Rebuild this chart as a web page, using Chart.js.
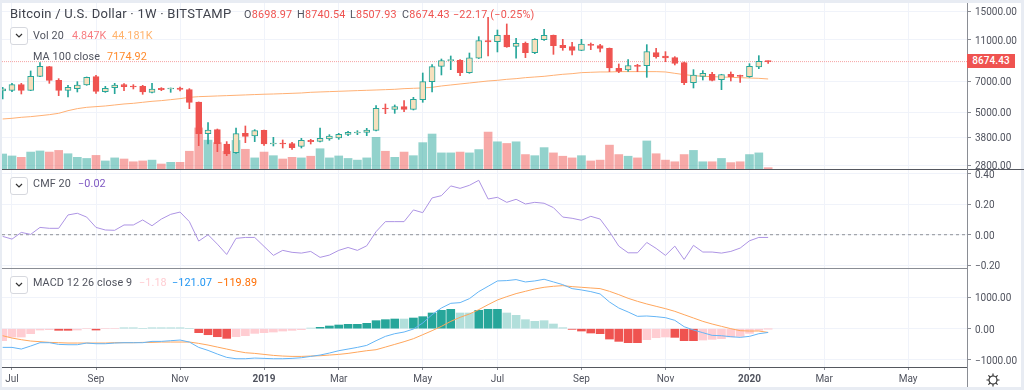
<!DOCTYPE html>
<html>
<head>
<meta charset="utf-8">
<title>Bitcoin / U.S. Dollar</title>
<script src="https://cdn.jsdelivr.net/npm/chart.js@4/dist/chart.umd.min.js"></script>
<style>
  html, body { margin: 0; padding: 0; background: #e8ecf3; }
  #page { position: relative; width: 1024px; height: 390px; overflow: hidden; background: #e8ecf3; font-family: Roboto, sans-serif; }
  #white { position: absolute; left: 2px; top: 3px; width: 1019px; height: 384px; background: #fff; }
  canvas { position: absolute; left: 0; }
  .rule { position: absolute; background: #55585f; }
  .txt { position: absolute; white-space: nowrap; font-size: 10.8px; letter-spacing: .1px; line-height: 14px; color: #50535e; }
  .ohlc { top: 8px; font-size: 10.8px; letter-spacing: .2px; }
  .btn { position: absolute; left: 10px; width: 16px; height: 16px; border: 1px solid #d6d8de; border-radius: 3px; background: #fff; }
  .btn svg { position: absolute; left: 4px; top: 5px; }
  .up { color: #ef5350; }
</style>
</head>
<body>
<div id="page">
  <div id="white"></div>
  <canvas id="pricePane" width="1024" height="186" style="top:-7px"></canvas>
  <canvas id="cmfPane" width="1024" height="118" style="top:160px"></canvas>
  <canvas id="macdPane" width="1024" height="131" style="top:259px"></canvas>

  <div class="rule" style="left:2px;top:169px;width:1022px;height:1px"></div>
  <div class="rule" style="left:2px;top:268px;width:965px;height:1px;background:#8a8d94"></div>
  <div class="rule" style="left:2px;top:367px;width:965px;height:1px"></div>
  <div class="rule" style="left:967px;top:3px;width:1px;height:384px;background:#8a8d94"></div>

  <div class="txt" style="left:10px;top:7px;font-size:13px;letter-spacing:.24px;color:#3f424c">Bitcoin / U.S. Dollar · 1W · BITSTAMP</div>
  <div class="txt ohlc" style="left:244px">O<span class="up">8698.97</span></div>
  <div class="txt ohlc" style="left:297px">H<span class="up">8740.54</span></div>
  <div class="txt ohlc" style="left:350px">L<span class="up">8507.93</span></div>
  <div class="txt ohlc" style="left:402px">C<span class="up">8674.43</span></div>
  <div class="txt ohlc up" style="left:453px">−22.17 (−0.25%)</div>

  <div class="btn" style="top:27px"><svg width="8" height="6"><path d="M1 1l3 3 3-3" fill="none" stroke="#333" stroke-width="1.2"/></svg></div>
  <div class="txt" style="left:33px;top:29px">Vol 20</div>
  <div class="txt" style="left:72px;top:29px;color:#f77c80">4.847K</div>
  <div class="txt" style="left:112px;top:29px;color:#ffb26b">44.181K</div>
  <div class="txt" style="left:33px;top:50px">MA 100 close</div>
  <div class="txt" style="left:107px;top:50px;color:#ff8a2b">7174.92</div>

  <div class="btn" style="top:177px"><svg width="8" height="6"><path d="M1 1l3 3 3-3" fill="none" stroke="#333" stroke-width="1.2"/></svg></div>
  <div class="txt" style="left:33px;top:177px">CMF 20</div>
  <div class="txt" style="left:78px;top:177px;color:#7e57c2">−0.02</div>

  <div class="btn" style="top:276px"><svg width="8" height="6"><path d="M1 1l3 3 3-3" fill="none" stroke="#333" stroke-width="1.2"/></svg></div>
  <div class="txt" style="left:33px;top:276px">MACD 12 26 close 9</div>
  <div class="txt" style="left:139px;top:276px;color:#ffcdd2">−1.18</div>
  <div class="txt" style="left:172px;top:276px;color:#2196f3">−121.07</div>
  <div class="txt" style="left:217px;top:276px;color:#ff6d00">−119.89</div>

  <div class="txt" style="left:967px;top:54px;width:48px;height:14px;background:#ef5350;color:#fff;text-align:center;font-size:10px;font-weight:500">8674.43</div>

  <svg style="position:absolute;left:986px;top:373px" width="14" height="14" viewBox="0 0 14 14">
    <circle cx="7" cy="7" r="4" fill="none" stroke="#333" stroke-width="1.2"/>
    <path d="M7 0.5v2.5M7 11v2.5M0.5 7h2.5M11 7h2.5M2.4 2.4l1.8 1.8M9.8 9.8l1.8 1.8M2.4 11.6l1.8-1.8M9.8 4.2l1.8-1.8" stroke="#333" stroke-width="1.2"/>
  </svg>
</div>

<script>
// weekly candles, first one is the week before the Jul 2018 tick
const opens = [6293,6338,6745,6338,7387,8210,7071,6338,6456,6720,7360,6247,6527,6745,6647,6622,6202,6480,6433,6503,6385,5581,3948,4124,3526,3208,3962,3849,4094,3526,3565,3539,3437,3671,3631,3725,3765,3919,3976,4005,4094,5208,5151,5303,5151,5725,6970,8240,8766,8798,7690,8998,10908,10790,11600,10252,10594,9568,11027,11563,10366,10215,9815,10442,10328,10030,8060,7916,8270,8300,9568,9225,9060,8577,6892,7387,7552,7123,7552,7442,7360,8180,8698.97];
const highs = [6550,6843,6843,7832,8577,8240,7201,6696,6970,7333,7470,6622,6843,6818,6745,6696,6843,6527,6503,6574,6456,5581,4452,4153,3618,4200,4293,4124,4109,3792,3684,3591,3752,3711,4200,3905,3962,4050,4079,4185,5362,5460,5401,5663,5873,7661,8392,8927,9225,8862,9530,11394,14077,12255,13090,11190,10750,11150,12345,11600,11068,10710,11068,10632,10480,10067,8453,8862,8422,10442,10030,9673,9157,8640,7945,7860,7718,7552,7747,7497,8483,9258,8740.54];
const lows = [5767,6247,6090,6315,7360,6843,5981,5894,6225,6696,6135,6200,6113,6315,6433,6068,6158,6315,6202,6293,5187,3463,3526,3243,3104,3184,3578,3618,3475,3450,3375,3327,3375,3526,3604,3671,3711,3863,3905,3863,4065,4912,4930,5023,5113,5561,6225,7497,7945,7442,7633,8966,9225,9640,10141,8998,9060,9462,10947,9392,9815,9327,9780,9885,9640,7775,7690,7803,7775,7307,8998,8672,8362,6745,6503,7097,7020,6385,7020,6920,7307,8030,8507.93];
const closes = [6437,6745,6338,7387,8240,7071,6338,6550,6720,7307,6270,6480,6720,6598,6574,6225,6433,6385,6456,6410,5561,3948,4109,3539,3161,3948,3834,4079,3526,3565,3526,3388,3671,3618,3752,3849,3919,4005,4005,4109,5208,5170,5303,5151,5745,6970,8210,8766,8798,7690,9030,10908,10750,11563,10178,10594,9568,11068,11563,10328,10104,9815,10518,10366,10030,8089,7803,8300,8240,9673,9157,9030,8514,6892,7497,7633,7071,7525,7360,7387,8240,8703,8674.43];
const volumes = [54,47,42,61,65,61,67,55,42,38,49,29,40,36,26,29,32,18,24,24,64,148,104,95,64,103,71,40,61,48,36,42,40,46,73,40,47,38,32,40,114,64,42,61,48,95,126,58,58,61,58,70,133,98,92,98,52,48,77,58,46,40,48,29,32,86,52,46,40,101,55,32,26,52,67,26,26,38,23,26,52,58,4.847];
const ma100 = [4635,4669,4720,4754,4805,4858,4930,5075,5189,5264,5303,5342,5401,5460,5500,5561,5622,5663,5725,5788,5873,5915,5937,5960,5982,6005,6028,6051,6074,6090,6112,6135,6158,6203,6226,6249,6272,6295,6318,6340,6362,6386,6410,6456,6480,6503,6550,6647,6720,6794,6868,6944,7020,7071,7149,7201,7279,7333,7387,7470,7552,7605,7690,7718,7747,7747,7775,7775,7775,7775,7775,7747,7633,7525,7442,7387,7360,7333,7307,7279,7252,7226,7175];
const cmf = [-0.011,-0.029,0.015,0.002,0.048,0.042,0.042,0.13,0.141,0.116,0.048,0.031,0.029,0.064,0.064,0.097,0.059,0.103,0.134,0.149,0.086,-0.042,0,-0.062,-0.13,-0.024,-0.018,-0.018,-0.077,-0.136,-0.103,-0.116,-0.121,-0.11,-0.149,-0.134,-0.103,-0.084,-0.103,-0.073,0.02,0.086,0.086,0.086,0.163,0.145,0.242,0.257,0.321,0.305,0.325,0.358,0.235,0.246,0.213,0.233,0.202,0.213,0.207,0.178,0.116,0.108,0.095,0.121,0.103,0.02,-0.075,-0.119,-0.119,-0.051,-0.09,-0.136,-0.075,-0.163,-0.07,-0.114,-0.114,-0.121,-0.11,-0.088,-0.04,-0.018,-0.018];
const macdLine = [-599,-599,-653,-556,-449,-449,-503,-514,-514,-460,-482,-482,-460,-449,-449,-449,-407,-407,-385,-364,-428,-599,-696,-813,-920,-963,-963,-942,-952,-963,-963,-952,-931,-888,-845,-781,-706,-653,-599,-535,-385,-246,-161,-107,-11,182,449,663,813,835,963,1188,1359,1530,1541,1573,1498,1530,1584,1498,1412,1284,1241,1188,1113,856,663,535,396,407,385,353,268,64,-43,-128,-214,-225,-257,-278,-246,-161,-121.07];
const signalLine = [-225,-300,-353,-396,-417,-439,-449,-460,-460,-460,-460,-460,-449,-449,-449,-439,-439,-428,-428,-428,-428,-471,-524,-589,-653,-717,-770,-792,-824,-856,-877,-888,-888,-877,-867,-845,-824,-792,-749,-706,-674,-589,-503,-417,-321,-193,-64,75,235,364,471,610,770,920,1027,1124,1198,1273,1327,1359,1380,1348,1327,1305,1284,1198,1091,974,877,792,717,642,556,449,342,235,150,75,0,-64,-75,-75,-119.89];
const macdHist = [-385,-268,-268,-160,-43,-32,-53,-53,-43,0,-43,0,0,30,30,0,30,30,30,30,0,-128,-193,-257,-310,-257,-225,-150,-128,-107,-75,-53,-32,21,43,86,118,139,139,171,257,289,310,310,342,385,503,588,620,503,503,588,620,620,503,428,289,235,257,150,32,-21,-75,-139,-160,-332,-406,-449,-449,-353,-289,-267,-278,-385,-385,-364,-342,-321,-267,-246,-150,-53,-1.18];
// r = falling below zero, p = rising below zero, t = rising above zero, l = falling above zero
const histKinds = "pppppprrpprppllllllllrrrrppppppppltttttttttltttttllttt".concat("lllllllrrrrrrrrppprrrpppppppp").split("");
const priceTicks = [2800,3800,5000,7000,11000,15000];
const cmfTicks = [-0.2,0,0.2,0.4];
const macdTicks = [-1000,0,1000];
const monthWeeks = [0,9,18,27,35,44,52,61,70,79,87,96];
const monthLabels = ["Jul","Sep","Nov","2019","Mar","May","Jul","Sep","Nov","2020","Mar","May"];
const lastClose = 8674.43;

const UP = "#26a69a", DOWN = "#ef5350", GRID = "#f0f3fa", TEXT = "#50535e";
const xMin = -1.07, xMax = 102.3; // 2px .. 967px on the page
const weeks = opens.map((_, i) => i - 1);
const isUp = weeks.map((_, i) => closes[i] >= opens[i]);
const series = (values) => values.map((v, i) => ({ x: weeks[i], y: v }));

const histColors = { r: "#ef5350", p: "#ffcdd2", t: "#26a69a", l: "#b2dfdb" };

function rightAxis(min, max, ticks, extra) {
  return Object.assign({
    type: "linear",
    position: "right",
    min,
    max,
    afterBuildTicks: (s) => { s.ticks = ticks.map((value) => ({ value })); },
    afterFit: (s) => { s.width = 57; },
    border: { display: false },
    grid: { color: GRID, tickColor: "#8a8d94", tickLength: 4 },
    ticks: {
      autoSkip: false,
      padding: 4,
      labelOffset: 1.5,
      color: TEXT,
      font: { family: "Roboto", size: 10 },
      callback: (v) => v.toFixed(2).replace("-", "−"),
    },
  }, extra);
}

function weekAxis(showLabels) {
  return {
    type: "linear",
    offset: false,
    min: xMin,
    max: xMax,
    afterBuildTicks: (s) => { s.ticks = monthWeeks.map((value) => ({ value })); },
    afterFit: (s) => { s.height = showLabels ? 21 : 0; },
    border: { display: false },
    grid: { offset: false, color: GRID, tickColor: "#8a8d94", tickLength: 3, drawTicks: showLabels },
    ticks: {
      display: showLabels,
      autoSkip: false,
      maxRotation: 0,
      padding: 3,
      color: TEXT,
      font: (c) => ({
        family: "Roboto",
        size: 10,
        weight: c.tick && /^20/.test(monthLabels[monthWeeks.indexOf(c.tick.value)]) ? "bold" : "normal",
      }),
      callback: (v) => monthLabels[monthWeeks.indexOf(v)],
    },
  };
}

// the top and bottom padding keeps the y scale's label margins from shrinking the plot
function baseOptions(top, bottom, scales) {
  return {
    responsive: false,
    animation: false,
    events: [],
    layout: { padding: { left: 2, right: 0, top, bottom } },
    plugins: { legend: { display: false }, tooltip: { enabled: false } },
    scales,
  };
}

new Chart(document.getElementById("pricePane"), {
  type: "bar",
  data: {
    datasets: [
      {
        label: "Candle body",
        yAxisID: "y",
        data: weeks.map((x, i) => ({ x, y: [opens[i], closes[i]] })),
        backgroundColor: isUp.map((u) => (u ? "#f7e0bd" : DOWN)),
        borderColor: isUp.map((u) => (u ? UP : DOWN)),
        borderWidth: 1,
        borderSkipped: false,
        barThickness: 6,
        minBarLength: 1,
        grouped: false,
        order: 1,
      },
      {
        label: "Candle wick",
        yAxisID: "y",
        data: weeks.map((x, i) => ({ x, y: [lows[i], highs[i]] })),
        backgroundColor: isUp.map((u) => (u ? UP : DOWN)),
        barThickness: 1,
        grouped: false,
        order: 2,
      },
      {
        type: "line",
        label: "MA 100",
        yAxisID: "y",
        data: series(ma100),
        borderColor: "#ffb074",
        borderWidth: 1,
        pointRadius: 0,
        order: 3,
      },
      {
        type: "line",
        label: "Last close",
        yAxisID: "y",
        data: [{ x: xMin, y: lastClose }, { x: xMax, y: lastClose }],
        borderColor: "#f5a3a3",
        borderWidth: 1,
        borderDash: [1, 1],
        pointRadius: 0,
        order: 4,
      },
      {
        label: "Volume",
        yAxisID: "vol",
        data: series(volumes),
        backgroundColor: isUp.map((u) => (u ? "rgba(38,166,154,.5)" : "rgba(239,83,80,.5)")),
        barThickness: 8,
        grouped: false,
        order: 5,
      },
    ],
  },
  options: baseOptions(10, 10, {
    x: weekAxis(false),
    y: rightAxis(2683, 16460, priceTicks, { type: "logarithmic" }),
    vol: { type: "linear", display: false, min: 0, max: 598 },
  }),
});

new Chart(document.getElementById("cmfPane"), {
  type: "line",
  data: {
    datasets: [
      {
        label: "CMF",
        data: series(cmf),
        borderColor: "#ad94e4",
        borderWidth: 1,
        pointRadius: 0,
      },
      {
        label: "Zero",
        data: [{ x: xMin, y: 0 }, { x: xMax, y: 0 }],
        borderColor: "#8f9298",
        borderWidth: 1,
        borderDash: [3, 3],
        pointRadius: 0,
      },
    ],
  },
  options: baseOptions(10, 10, { x: weekAxis(false), y: rightAxis(-0.219, 0.4257, cmfTicks) }),
});

new Chart(document.getElementById("macdPane"), {
  type: "bar",
  data: {
    datasets: [
      {
        type: "line",
        label: "MACD",
        data: series(macdLine),
        borderColor: "#64b5f6",
        borderWidth: 1,
        pointRadius: 0,
        order: 1,
      },
      {
        type: "line",
        label: "Signal",
        data: series(signalLine),
        borderColor: "#ffa65c",
        borderWidth: 1,
        pointRadius: 0,
        order: 2,
      },
      {
        label: "Histogram",
        data: series(macdHist),
        backgroundColor: histKinds.map((k) => histColors[k]),
        barThickness: 8,
        grouped: false,
        order: 3,
      },
    ],
  },
  options: baseOptions(10, 2, { x: weekAxis(true), y: rightAxis(-1228, 1913, macdTicks) }),
});
</script>
</body>
</html>
